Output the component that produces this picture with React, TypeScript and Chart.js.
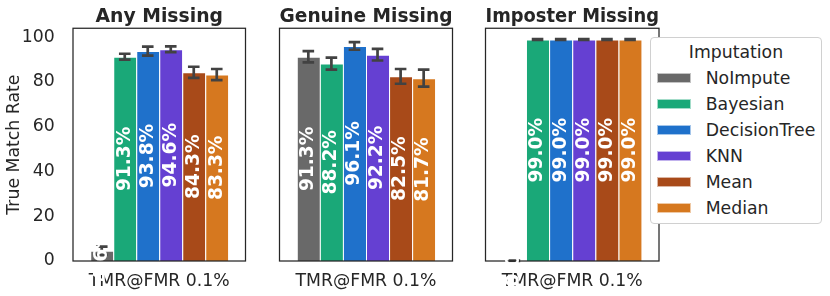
import React, { useEffect, useRef } from 'react';
import { Chart, registerables } from 'chart.js';

Chart.register(...registerables);

const panelTitles = ['Any Missing', 'Genuine Missing', 'Imposter Missing'];
const methods = ['NoImpute', 'Bayesian', 'DecisionTree', 'KNN', 'Mean', 'Median'];
const methodColors = ['#696969', '#1aa878', '#1f71cb', '#6540d2', '#a84a19', '#d6781f'];
const xLabels = ['TMR@FMR 0.1%'];
const yTicks = [0, 20, 40, 60, 80, 100];
const yTitle = 'True Match Rate';
const legendTitle = 'Imputation';

const anyMissing = [4.6, 91.3, 93.8, 94.6, 84.3, 83.3];
const anyMissingErr = [1.8, 1.3, 2.0, 1.3, 2.5, 2.5];
const genuineMissing = [91.3, 88.2, 96.1, 92.2, 82.5, 81.7];
const genuineMissingErr = [2.5, 2.7, 1.7, 2.6, 3.3, 3.8];
const imposterMissing = [0.0, 99.0, 99.0, 99.0, 99.0, 99.0];
const imposterMissingErr = [0.2, 0.2, 0.2, 0.2, 0.2, 0.2];

const panelValues = [anyMissing, genuineMissing, imposterMissing];
const panelErrors = [anyMissingErr, genuineMissingErr, imposterMissingErr];

const W = 830;
const H = 296;
const plotLeft = [73, 279.5, 485.5];
const plotRight = [245.5, 452.5, 659];
const FONT = '"DejaVu Sans", sans-serif';
const INK = '#262626';
const LABEL_SIZE = 17.3;

const overlayPlugin = {
  id: 'overlay',
  afterDraw(chart: any) {
    const ctx = chart.ctx;
    const ca = chart.chartArea;
    const ys = chart.scales.y;
    const vals: number[] = chart.options.plugins.overlay.values;
    const errs: number[] = chart.options.plugins.overlay.errors;
    ctx.save();
    // error bars
    ctx.strokeStyle = '#424242';
    ctx.lineWidth = 2.7;
    ctx.lineCap = 'butt';
    vals.forEach((v, d) => {
      const el = chart.getDatasetMeta(d).data[0];
      if (!el) return;
      const x = el.x;
      const yt = ys.getPixelForValue(v + errs[d]);
      const yb = ys.getPixelForValue(Math.max(0, v - errs[d]));
      ctx.beginPath();
      ctx.moveTo(x, yt);
      ctx.lineTo(x, yb);
      ctx.moveTo(x - 5.8, yt);
      ctx.lineTo(x + 5.8, yt);
      ctx.moveTo(x - 5.8, yb);
      ctx.lineTo(x + 5.8, yb);
      ctx.stroke();
    });
    // frame
    ctx.strokeStyle = INK;
    ctx.lineWidth = 1.25;
    ctx.strokeRect(ca.left, ca.top, ca.right - ca.left, ca.bottom - ca.top);
    // value labels
    ctx.fillStyle = '#ffffff';
    ctx.font = `bold 18.6px ${FONT}`;
    ctx.textAlign = 'center';
    ctx.textBaseline = 'middle';
    vals.forEach((v, d) => {
      const el = chart.getDatasetMeta(d).data[0];
      if (!el) return;
      ctx.save();
      ctx.translate(el.x, ys.getPixelForValue(v / 2));
      ctx.rotate(-Math.PI / 2);
      ctx.fillText(v.toFixed(1) + '%', 0, 0);
      ctx.restore();
    });
    ctx.restore();
  },
};

function makeConfig(i: number): any {
  const values = panelValues[i];
  return {
    type: 'bar',
    data: {
      labels: xLabels,
      datasets: methods.map((m, d) => ({
        label: m,
        data: [values[d]],
        backgroundColor: methodColors[d],
        borderColor: 'rgba(255,255,255,0.75)',
        borderWidth: { left: 1, right: 0, top: 1, bottom: 0 },
        borderSkipped: 'start',
        categoryPercentage: 0.8,
        barPercentage: 1.0,
      })),
    },
    options: {
      responsive: false,
      animation: false,
      devicePixelRatio: 1,
      layout: {
        padding: { left: i === 0 ? 0 : plotLeft[i], right: W - plotRight[i], top: 0.2, bottom: 0 },
      },
      plugins: {
        legend: { display: false },
        tooltip: { enabled: false },
        title: {
          display: true,
          text: panelTitles[i],
          fullSize: false,
          color: INK,
          font: { family: FONT, size: 18.8, weight: 'bold', lineHeight: 1.2 },
          padding: { top: 5.5, bottom: 0 },
        },
        overlay: { values, errors: panelErrors[i] },
      },
      scales: {
        x: {
          type: 'category',
          offset: true,
          grid: { display: false },
          border: { display: false },
          ticks: { color: INK, font: { family: FONT, size: LABEL_SIZE }, padding: 2, maxRotation: 0 },
          afterFit: (s: any) => {
            s.height = 35;
          },
        },
        y: {
          display: i === 0,
          min: 0,
          max: 104,
          grid: { display: false },
          border: { display: false },
          ticks: {
            stepSize: 20,
            includeBounds: false,
            padding: 10.3,
            color: INK,
            font: { family: FONT, size: LABEL_SIZE },
          },
          afterBuildTicks: (s: any) => {
            s.ticks = yTicks.map((v) => ({ value: v }));
          },
          title: {
            display: true,
            text: yTitle,
            color: INK,
            font: { family: FONT, size: LABEL_SIZE },
            padding: { top: 4.5, bottom: 0 },
          },
          afterFit: (s: any) => {
            if (i === 0) s.width = 73;
          },
        },
      },
    },
    plugins: [overlayPlugin],
  };
}

export default function App() {
  const r0 = useRef<HTMLCanvasElement>(null);
  const r1 = useRef<HTMLCanvasElement>(null);
  const r2 = useRef<HTMLCanvasElement>(null);

  useEffect(() => {
    const refs = [r0, r1, r2];
    const charts = refs.map((r, i) => new Chart(r.current as HTMLCanvasElement, makeConfig(i)));
    return () => charts.forEach((c) => c.destroy());
  }, []);

  const canvasStyle: React.CSSProperties = { position: 'absolute', left: 0, top: 0, width: W, height: H };

  return (
    <div style={{ position: 'fixed', left: 0, top: 0, width: W, height: H, background: '#fff', overflow: 'hidden' }}>
      <canvas ref={r0} width={W} height={H} style={canvasStyle} />
      <canvas ref={r1} width={W} height={H} style={canvasStyle} />
      <canvas ref={r2} width={W} height={H} style={canvasStyle} />
      <div
        style={{
          position: 'absolute',
          left: 650,
          top: 37,
          width: 172,
          height: 187,
          boxSizing: 'border-box',
          border: '1px solid #d0d0d0',
          borderRadius: 4,
          background: '#fff',
          fontFamily: FONT,
          fontSize: LABEL_SIZE,
          color: INK,
          zIndex: 2,
        }}
      >
        <div style={{ position: 'absolute', left: 0, right: 0, top: 4.3, lineHeight: '20px', textAlign: 'center' }}>
          {legendTitle}
        </div>
        {methods.map((m, k) => (
          <React.Fragment key={m}>
            <div
              style={{
                position: 'absolute',
                left: 6,
                top: 30.3 + 26 * k + 5,
                width: 34,
                height: 10,
                background: methodColors[k],
                boxSizing: 'border-box',
                border: '1px solid rgba(255,255,255,0.6)',
              }}
            />
            <div style={{ position: 'absolute', left: 54.7, top: 30.3 + 26 * k, lineHeight: '20px', whiteSpace: 'nowrap' }}>
              {m}
            </div>
          </React.Fragment>
        ))}
      </div>
    </div>
  );
}
